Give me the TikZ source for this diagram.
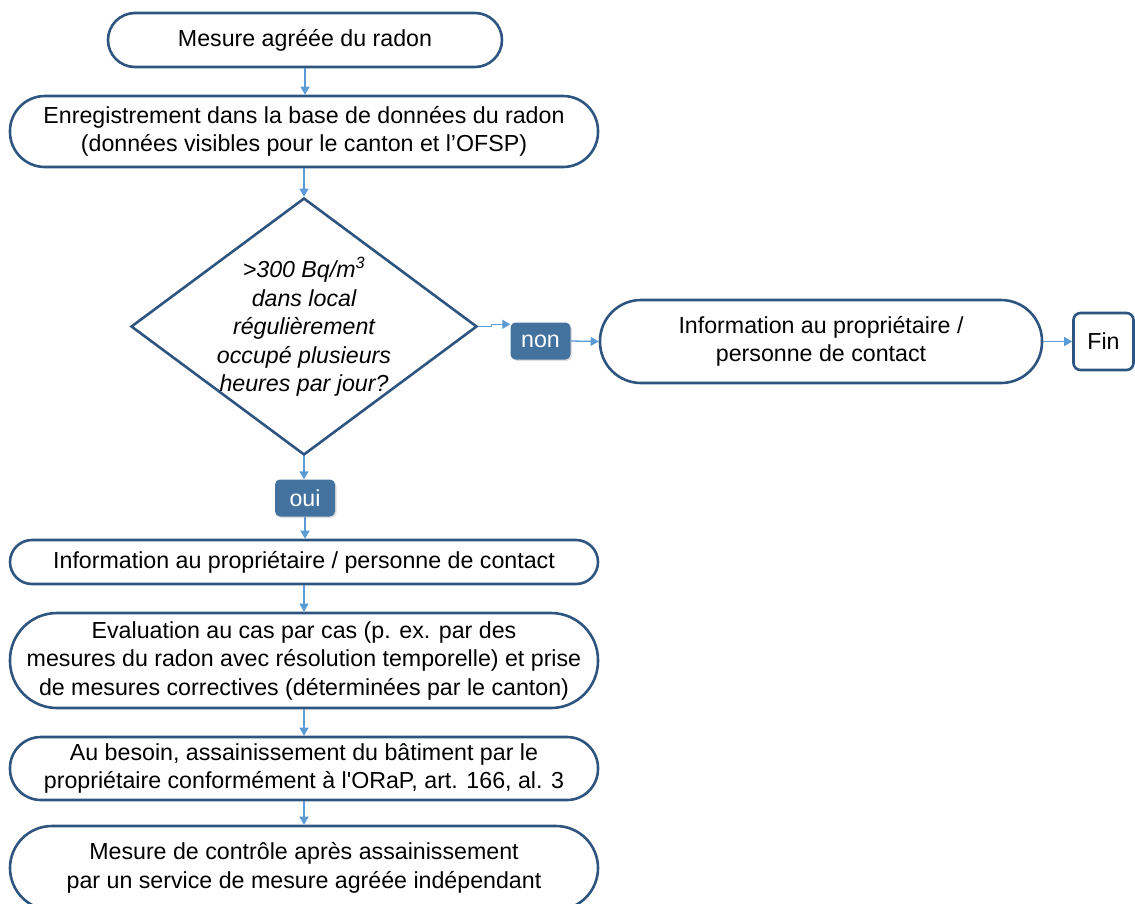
\documentclass[tikz,border=0pt]{standalone}
\usepackage{fontspec}
\setmainfont{Liberation Sans}
\usetikzlibrary{arrows.meta,shapes.geometric,shadows}
\definecolor{boxline}{HTML}{2D5580}
\definecolor{arrowc}{HTML}{5B9BD5}
\definecolor{tagfill}{HTML}{44729F}
\begin{document}
\begin{tikzpicture}[x=1pt,y=-1pt,
  every node/.style={font=\fontsize{23.2}{28.5}\selectfont, align=center, inner sep=0pt},
  box/.style={draw=boxline, line width=2.6pt, fill=white, minimum width=588pt},
  tag/.style={fill=tagfill, rounded corners=5pt, text=white, minimum width=60pt, minimum height=37pt,
    drop shadow={shadow xshift=1.5pt, shadow yshift=-1.5pt, opacity=0.25}},
  arr/.style={draw=arrowc, line width=1.3pt, -{Triangle[length=8pt,width=9pt]}}]
\useasboundingbox (0,0) rectangle (1135,903);
\node[box, minimum width=394pt, minimum height=54pt, rounded corners=27pt] (n1) at (305,40) {Mesure agréée du radon};
\node[box, minimum height=71pt, rounded corners=35pt] (n2) at (304,131.5) {Enregistrement dans la base de données du radon\\(données visibles pour le canton et l’OFSP)};
\node[draw=boxline, line width=2.6pt, shape=diamond, aspect=1.346, minimum width=346pt, minimum height=257pt] (d) at (304,326.5) {};
\node[font=\fontsize{23.2}{28.5}\selectfont\itshape] (dt) at (304,327) {>300 Bq/m\textsuperscript{3}\\dans local\\régulièrement\\occupé plusieurs\\heures par jour?};
\node[tag] (non) at (540.5,341) {non};
\node[box, minimum width=442pt, minimum height=83pt, rounded corners=41pt] (inf2) at (821,341.5) {Information au propriétaire /\\personne de contact};
\node[box, minimum width=60pt, minimum height=57pt, rounded corners=7pt] (fin) at (1103.5,341.5) {Fin};
\node[tag] (oui) at (305,498) {oui};
\node[box, minimum height=44pt, rounded corners=22pt] (inf) at (304,562) {Information au propriétaire / personne de contact};
\node[box, minimum height=95pt, rounded corners=47pt] (ev) at (304,660.5) {Evaluation au cas par cas (p. ex. par des\\mesures du radon avec résolution temporelle) et prise\\de mesures correctives (déterminées par le canton)};
\node[box, minimum height=63pt, rounded corners=31pt] (ab) at (304,768.5) {Au besoin, assainissement du bâtiment par le\\propriétaire conformément à l\textquotesingle ORaP, art. 166, al. 3};
\node[box, minimum height=84pt, rounded corners=42pt] (mc) at (304,868) {Mesure de contrôle après assainissement\\par un service de mesure agréée indépendant};
\draw[arr] (n1.south) -- (n1.south |- n2.north);
\draw[arr] (n2.south) -- (n2.south |- d.north);
\draw[arr] (d.east) -- ++(13pt,0) |- ([yshift=-2pt]non.north west);
\draw[arr] (non.east) -- (inf2.west);
\draw[arr] (inf2.east) -- (fin.west);
\draw[arr] (d.south) -- (d.south |- oui.north);
\draw[arr] (oui.south) -- (oui.south |- inf.north);
\draw[arr] (inf.south) -- (inf.south |- ev.north);
\draw[arr] (ev.south) -- (ev.south |- ab.north);
\draw[arr] (ab.south) -- (ab.south |- mc.north);
\end{tikzpicture}
\end{document}
